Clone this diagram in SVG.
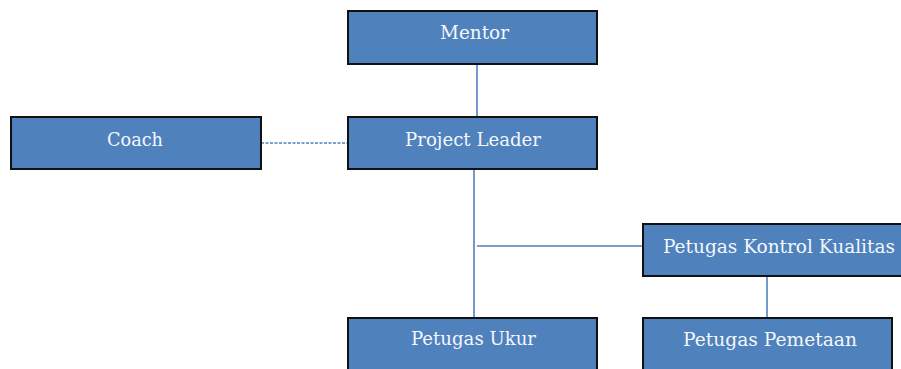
<svg xmlns="http://www.w3.org/2000/svg" width="901" height="369" viewBox="0 0 901 369">
<style>
.box{fill:#4f81bd;stroke:#111;stroke-width:2}
.lbl{font-family:"DejaVu Serif","Liberation Serif",serif;font-size:19px;fill:#f4f7fb;text-anchor:middle;lengthAdjust:spacingAndGlyphs}
.con{stroke:#4f81bd;stroke-width:1.6;fill:none}
</style>
<rect width="901" height="369" fill="#fff"/>
<g id="connectors">
<line class="con" x1="477" y1="64" x2="477" y2="117"/>
<line class="con" x1="261" y1="143" x2="348" y2="143" stroke-dasharray="3,1.5"/>
<line class="con" x1="474" y1="169" x2="474" y2="318"/>
<line class="con" x1="477" y1="246" x2="643" y2="246"/>
<line class="con" x1="767" y1="276" x2="767" y2="318"/>
</g>
<g id="mentor"><rect class="box" x="348" y="11" width="249" height="53"/><text class="lbl" x="474.5" y="39" textLength="69" lengthAdjust="spacingAndGlyphs">Mentor</text></g>
<g id="project-leader"><rect class="box" x="348" y="117" width="249" height="52"/><text class="lbl" x="473" y="146" textLength="136" lengthAdjust="spacingAndGlyphs">Project Leader</text></g>
<g id="coach"><rect class="box" x="11" y="117" width="250" height="52"/><text class="lbl" x="135" y="146" textLength="56" lengthAdjust="spacingAndGlyphs">Coach</text></g>
<g id="petugas-kontrol-kualitas"><rect class="box" x="643" y="224" width="262" height="52"/><text class="lbl" x="779" y="253" textLength="232" lengthAdjust="spacingAndGlyphs">Petugas Kontrol Kualitas</text></g>
<g id="petugas-ukur"><rect class="box" x="348" y="318" width="249" height="60"/><text class="lbl" x="473.5" y="345" textLength="125" lengthAdjust="spacingAndGlyphs">Petugas Ukur</text></g>
<g id="petugas-pemetaan"><rect class="box" x="643" y="318" width="249" height="60"/><text class="lbl" x="770" y="346" textLength="174" lengthAdjust="spacingAndGlyphs">Petugas Pemetaan</text></g>
</svg>
